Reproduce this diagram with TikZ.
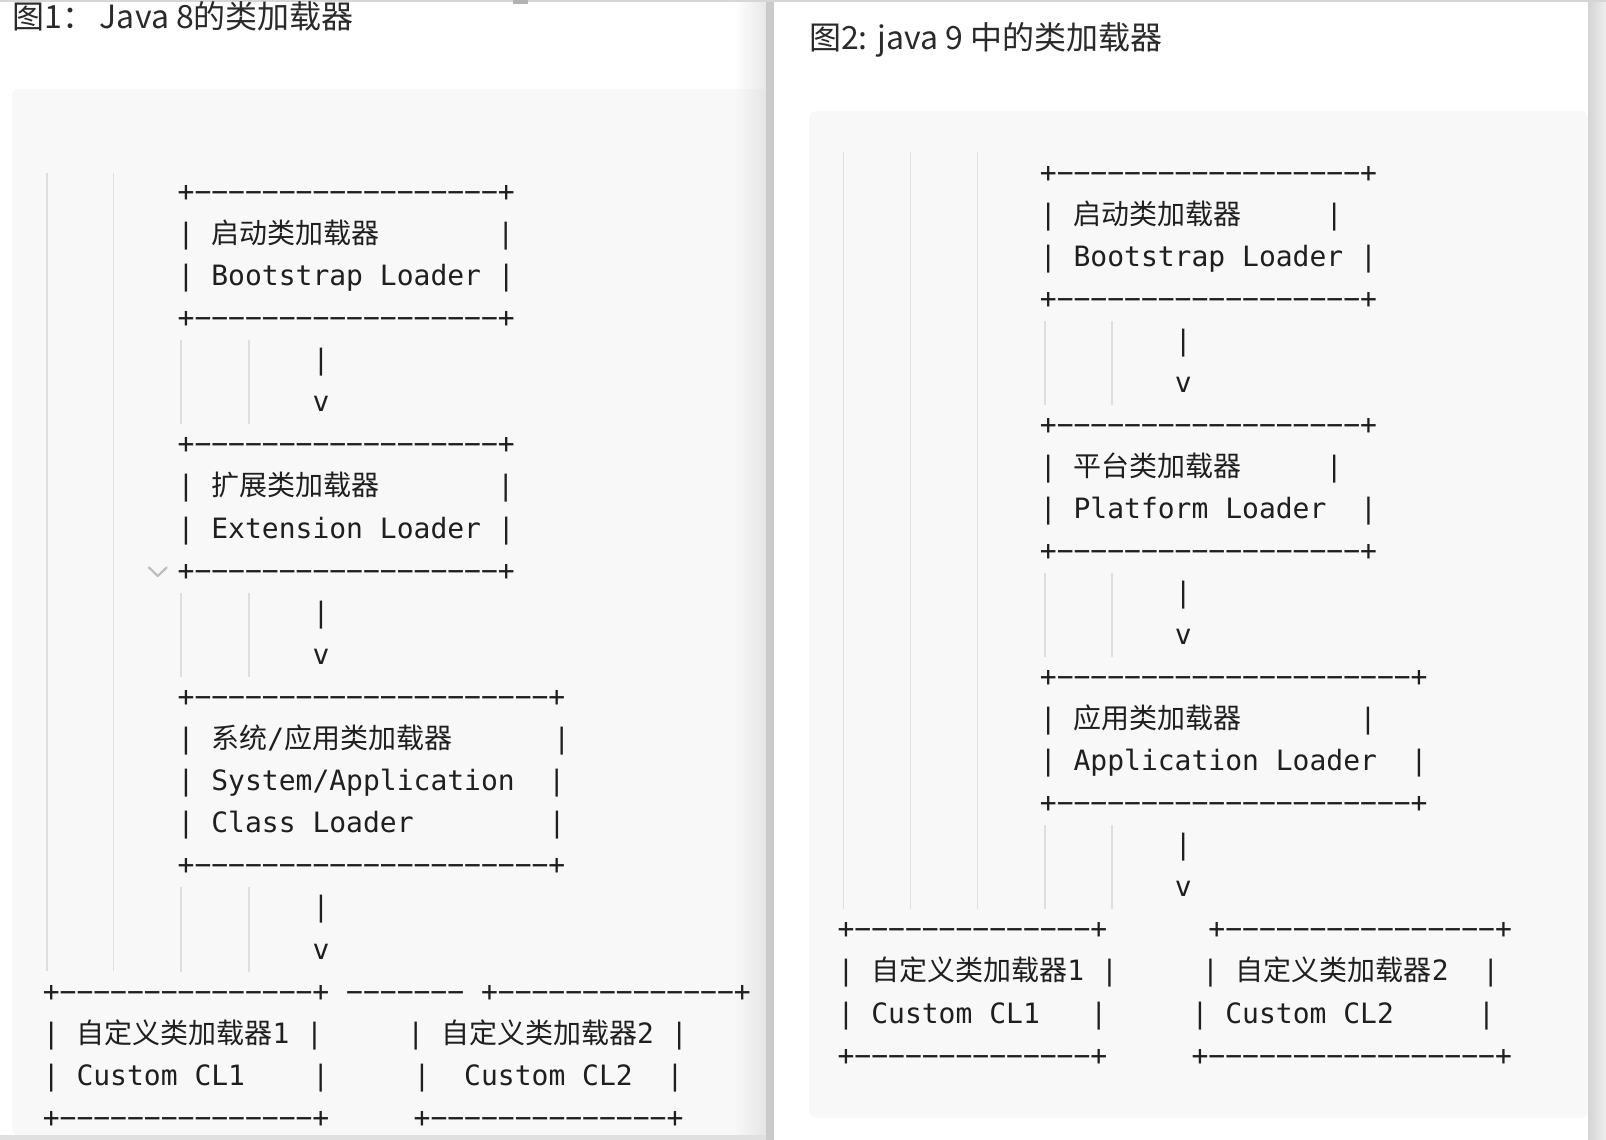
\documentclass[tikz,border=0pt]{standalone}
\usepackage{fontspec}
\setmainfont{Noto Sans CJK SC}
\setmonofont{DejaVu Sans Mono}
\newfontfamily\cjk{Noto Sans CJK SC}
\definecolor{codebg}{HTML}{F8F8F8}
\definecolor{guidecol}{HTML}{DEDEDE}
\definecolor{codetext}{HTML}{1F1F1F}
\definecolor{titletext}{HTML}{2A2A2A}
\definecolor{bandcol}{HTML}{CACACA}
\definecolor{outercol}{HTML}{EEEEEE}
\definecolor{chevcol}{HTML}{BDBDBD}
% a run of n long dashes (one monospace cell each)
\ExplSyntaxOn
\NewDocumentCommand\dashes{m}{\prg_replicate:nn{#1}{−}}
\ExplSyntaxOff
\begin{document}
\begin{tikzpicture}[x=1pt,y=-1pt,
  code/.style={anchor=base west, inner sep=0pt, outer sep=0pt, text=codetext,
    font=\ttfamily\fontsize{28}{34}\selectfont},
  titlestyle/.style={anchor=base west, inner sep=0pt, outer sep=0pt, text=titletext,
    font=\fontsize{32}{36}\selectfont},
  guide/.style={draw=guidecol, line width=1.4pt},
  chev/.style={draw=chevcol, line width=2.2pt, line cap=round, line join=round}]
\useasboundingbox (0,0) rectangle (1606,1140);
% ---------- backgrounds ----------
\fill[outercol] (0,0) rectangle (1606,1140);
\fill[white] (0,2.5) rectangle (766,1135);
\fill[codebg, rounded corners=6pt] (12,1135) -- (12,89) -- (790,89) -- (790,1135) -- cycle;
\shade[left color=white, right color=black!9] (734,2.5) rectangle (766,89);
\shade[left color=codebg, right color=black!10] (734,89) rectangle (766,1135);
\fill[black!12] (0,1135) rectangle (766,1140);
\fill[bandcol] (766,2.5) rectangle (774,1140);
\fill[white] (774,2.5) rectangle (1588,1140);
\fill[codebg, rounded corners=8pt] (1588,111) -- (809,111) -- (809,1118) -- (1588,1118) -- cycle;
\shade[left color=black!17, right color=outercol] (1588,2.5) rectangle (1606,1140);
\fill[black!16] (0,0) rectangle (1606,2.5);
\fill[black!30] (513,0) rectangle (528,4.5);
% ---------- titles ----------
\node[titlestyle] (title1) at (12.8,29) {图1：\,Java 8的类加载器};
\node[titlestyle] (title2) at (809,50) {图2: java 9 中的类加载器};
% ---------- indent guides, left block ----------
\draw[guide] (47,173.3) -- (47,971.4);
\draw[guide] (113.5,173.3) -- (113.5,971.4);
\foreach \ya/\yb in {340/424.2, 592.6/676.8, 887.3/971.5}{
  \draw[guide] (181,\ya) -- (181,\yb);
  \draw[guide] (249,\ya) -- (249,\yb);
}
\draw[chev] (149,567.5) -- (157.8,576) -- (166.6,567.5);
% ---------- indent guides, right block ----------
\foreach \gx in {843.3, 910.2, 977.6}{
  \draw[guide] (\gx,152.4) -- (\gx,909.4);
}
\foreach \ya/\yb in {320.6/404.8, 572.9/657.1, 825.2/909.4}{
  \draw[guide] (1045,\ya) -- (1045,\yb);
  \draw[guide] (1111.8,\ya) -- (1111.8,\yb);
}
% ---------- left block text (Java 8) ----------
\def\XL{42.8}
\node[code] (L0)  at (\XL,{201.2+42.1*0})  {~~~~~~~~+\dashes{18}+};
\node[code] (L1)  at (\XL,{201.2+42.1*1})  {~~~~~~~~|~{\cjk 启动类加载器}~~~~~~~|};
\node[code] (L2)  at (\XL,{201.2+42.1*2})  {~~~~~~~~|~Bootstrap~Loader~|};
\node[code] (L3)  at (\XL,{201.2+42.1*3})  {~~~~~~~~+\dashes{18}+};
\node[code] (L4)  at (\XL,{201.2+42.1*4})  {~~~~~~~~~~~~~~~~|};
\node[code] (L5)  at (\XL,{201.2+42.1*5})  {~~~~~~~~~~~~~~~~v};
\node[code] (L6)  at (\XL,{201.2+42.1*6})  {~~~~~~~~+\dashes{18}+};
\node[code] (L7)  at (\XL,{201.2+42.1*7})  {~~~~~~~~|~{\cjk 扩展类加载器}~~~~~~~|};
\node[code] (L8)  at (\XL,{201.2+42.1*8})  {~~~~~~~~|~Extension~Loader~|};
\node[code] (L9)  at (\XL,{201.2+42.1*9})  {~~~~~~~~+\dashes{18}+};
\node[code] (L10) at (\XL,{201.2+42.1*10}) {~~~~~~~~~~~~~~~~|};
\node[code] (L11) at (\XL,{201.2+42.1*11}) {~~~~~~~~~~~~~~~~v};
\node[code] (L12) at (\XL,{201.2+42.1*12}) {~~~~~~~~+\dashes{21}+};
\node[code] (L13) at (\XL,{201.2+42.1*13}) {~~~~~~~~|~{\cjk 系统}/{\cjk 应用类加载器}~~~~~~|};
\node[code] (L14) at (\XL,{201.2+42.1*14}) {~~~~~~~~|~System/Application~~|};
\node[code] (L15) at (\XL,{201.2+42.1*15}) {~~~~~~~~|~Class~Loader~~~~~~~~|};
\node[code] (L16) at (\XL,{201.2+42.1*16}) {~~~~~~~~+\dashes{21}+};
\node[code] (L17) at (\XL,{201.2+42.1*17}) {~~~~~~~~~~~~~~~~|};
\node[code] (L18) at (\XL,{201.2+42.1*18}) {~~~~~~~~~~~~~~~~v};
\node[code] (L19) at (\XL,{201.2+42.1*19}) {+\dashes{15}+~\dashes{7}~+\dashes{14}+};
\node[code] (L20) at (\XL,{201.2+42.1*20}) {|~{\cjk 自定义类加载器}1~|~~~~~|~{\cjk 自定义类加载器}2~|};
\node[code] (L21) at (\XL,{201.2+42.1*21}) {|~Custom~CL1~~~~|~~~~~|~~Custom~CL2~~|};
\node[code] (L22) at (\XL,{201.2+42.1*22}) {+\dashes{15}+~~~~~+\dashes{14}+};
% ---------- right block text (Java 9) ----------
\def\XR{837.6}
\node[code] (R0)  at (\XR,{182+42.05*0})  {~~~~~~~~~~~~+\dashes{18}+};
\node[code] (R1)  at (\XR,{182+42.05*1})  {~~~~~~~~~~~~|~{\cjk 启动类加载器}~~~~~|};
\node[code] (R2)  at (\XR,{182+42.05*2})  {~~~~~~~~~~~~|~Bootstrap~Loader~|};
\node[code] (R3)  at (\XR,{182+42.05*3})  {~~~~~~~~~~~~+\dashes{18}+};
\node[code] (R4)  at (\XR,{182+42.05*4})  {~~~~~~~~~~~~~~~~~~~~|};
\node[code] (R5)  at (\XR,{182+42.05*5})  {~~~~~~~~~~~~~~~~~~~~v};
\node[code] (R6)  at (\XR,{182+42.05*6})  {~~~~~~~~~~~~+\dashes{18}+};
\node[code] (R7)  at (\XR,{182+42.05*7})  {~~~~~~~~~~~~|~{\cjk 平台类加载器}~~~~~|};
\node[code] (R8)  at (\XR,{182+42.05*8})  {~~~~~~~~~~~~|~Platform~Loader~~|};
\node[code] (R9)  at (\XR,{182+42.05*9})  {~~~~~~~~~~~~+\dashes{18}+};
\node[code] (R10) at (\XR,{182+42.05*10}) {~~~~~~~~~~~~~~~~~~~~|};
\node[code] (R11) at (\XR,{182+42.05*11}) {~~~~~~~~~~~~~~~~~~~~v};
\node[code] (R12) at (\XR,{182+42.05*12}) {~~~~~~~~~~~~+\dashes{21}+};
\node[code] (R13) at (\XR,{182+42.05*13}) {~~~~~~~~~~~~|~{\cjk 应用类加载器}~~~~~~~|};
\node[code] (R14) at (\XR,{182+42.05*14}) {~~~~~~~~~~~~|~Application~Loader~~|};
\node[code] (R15) at (\XR,{182+42.05*15}) {~~~~~~~~~~~~+\dashes{21}+};
\node[code] (R16) at (\XR,{182+42.05*16}) {~~~~~~~~~~~~~~~~~~~~|};
\node[code] (R17) at (\XR,{182+42.05*17}) {~~~~~~~~~~~~~~~~~~~~v};
\node[code] (R18) at (\XR,{182+42.05*18}) {+\dashes{14}+~~~~~~+\dashes{16}+};
\node[code] (R19) at (\XR,{182+42.05*19}) {|~{\cjk 自定义类加载器}1~|~~~~~|~{\cjk 自定义类加载器}2~~|};
\node[code] (R20) at (\XR,{182+42.05*20}) {|~Custom~CL1~~~|~~~~~|~Custom~CL2~~~~~|};
\node[code] (R21) at (\XR,{182+42.05*21}) {+\dashes{14}+~~~~~+\dashes{17}+};
\end{tikzpicture}
\end{document}
